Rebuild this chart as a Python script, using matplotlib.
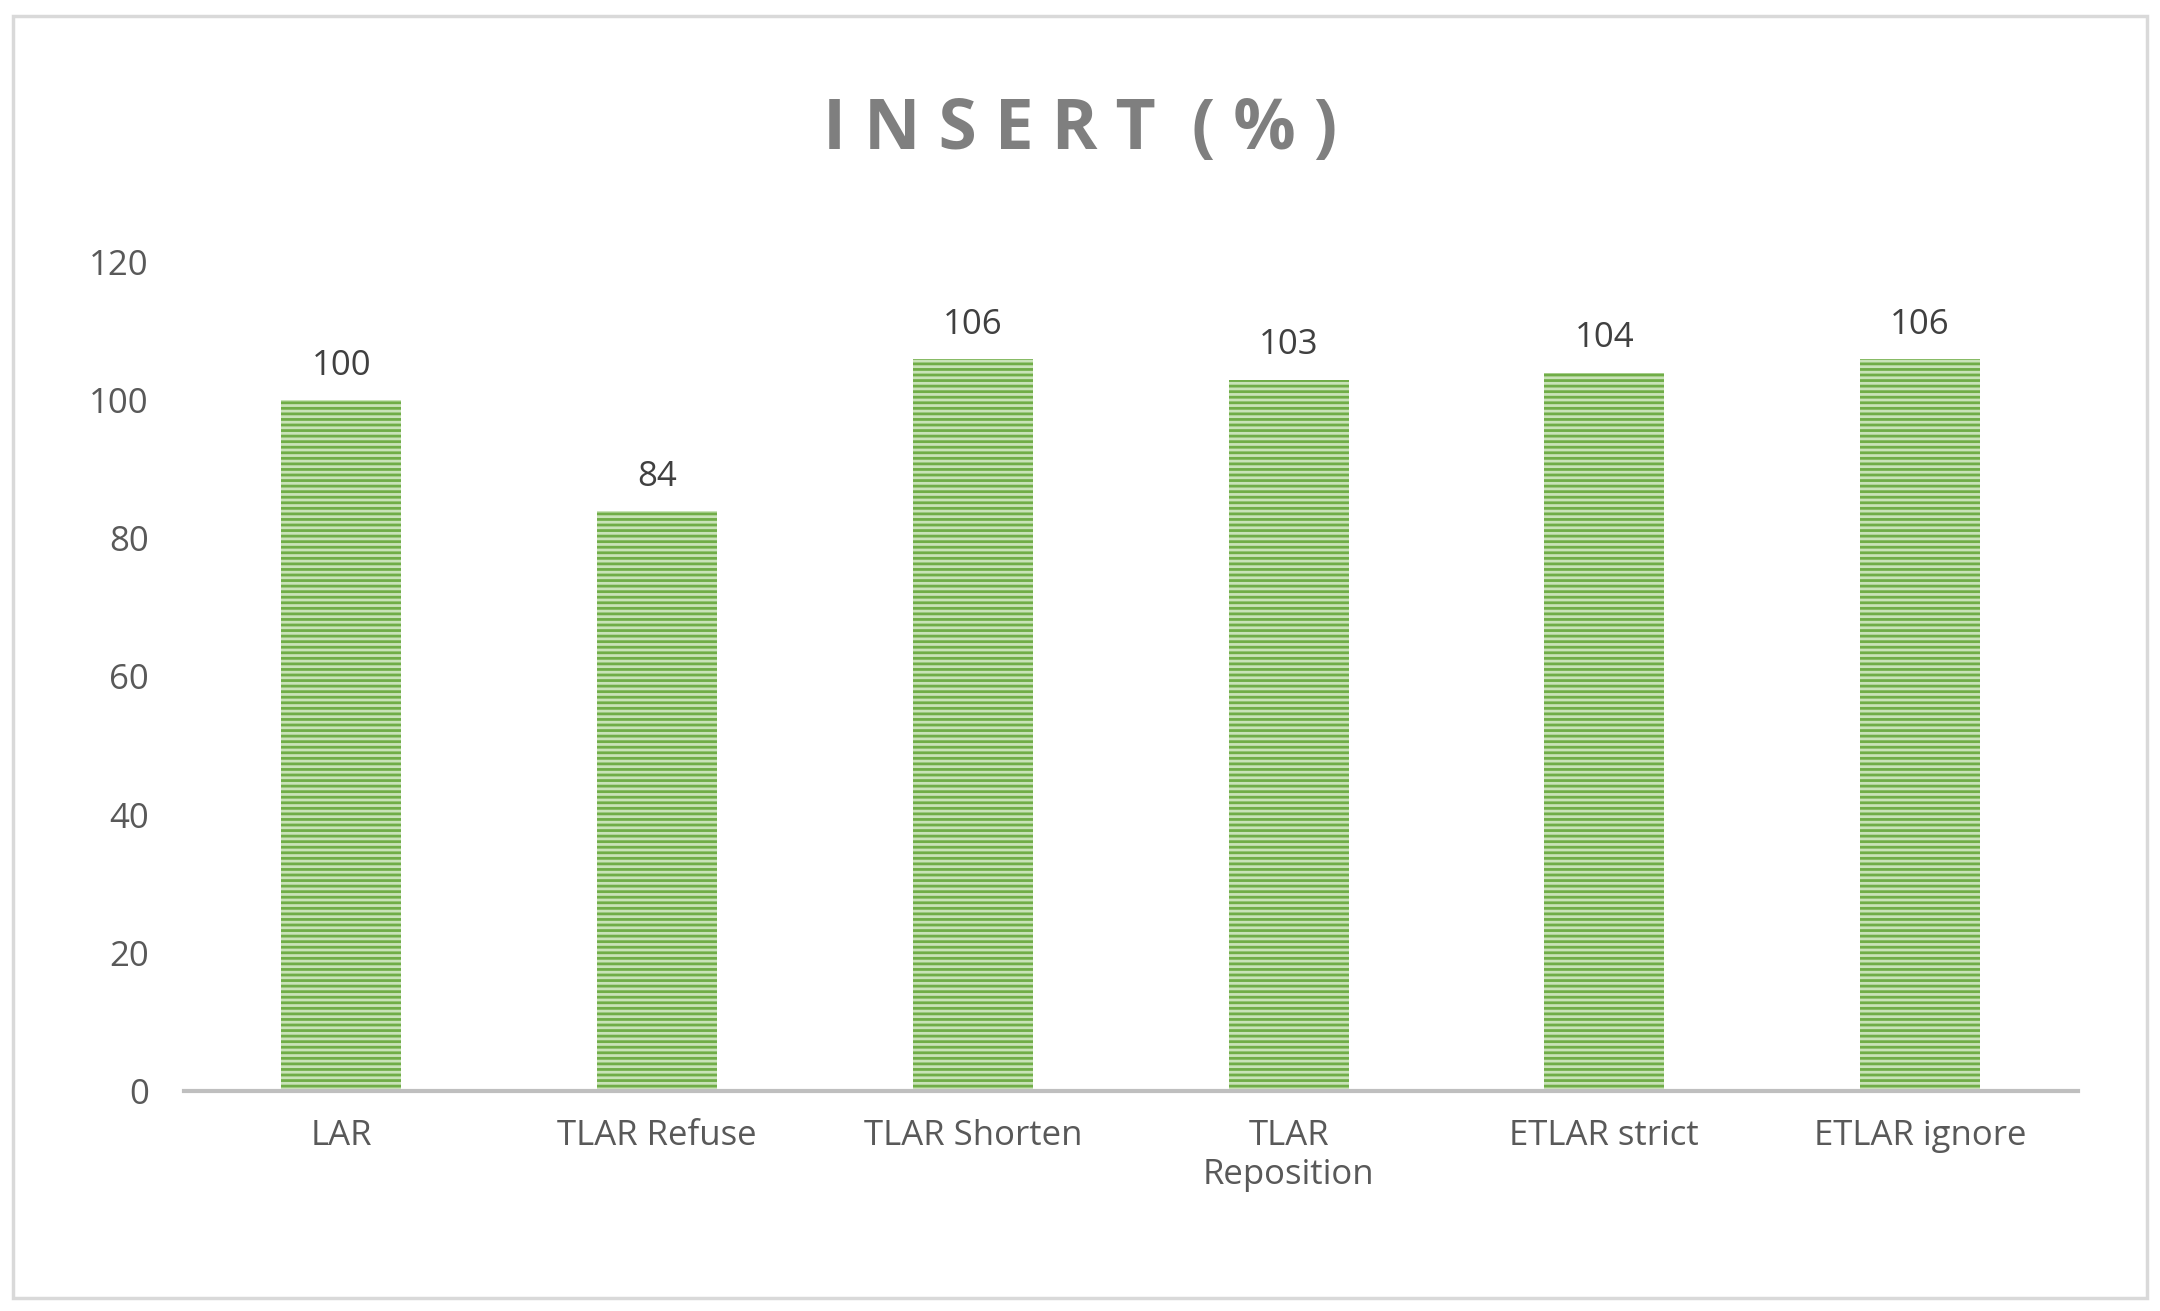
import matplotlib as mpl
mpl.use('Agg')
import matplotlib.pyplot as plt
from matplotlib.patches import Rectangle

categories = ['LAR', 'TLAR Refuse', 'TLAR Shorten', 'TLAR\nReposition', 'ETLAR strict', 'ETLAR ignore']
values = [100, 84, 106, 103, 104, 106]

plt.rcParams['font.family'] = ['Open Sans', 'DejaVu Sans']
plt.rcParams['hatch.linewidth'] = 2.0
plt.rcParams['hatch.color'] = '#70ad47'

fig = plt.figure(figsize=(21.6, 13.11), dpi=100)
ax = fig.add_axes([0.085, 0.168, 0.877, 0.632])
fig.patches.append(Rectangle((0.006, 0.01), 0.988, 0.978, transform=fig.transFigure,
                             fill=False, edgecolor='#d9d9d9', linewidth=2.5))

x = range(len(categories))
bars = ax.bar(x, values, width=0.38, color='#c9e3b8', edgecolor='#70ad47',
              linewidth=0, hatch='---')
for xi, v in zip(x, values):
    ax.text(xi, v + 2.5, str(v), ha='center', va='bottom', fontsize=25, color='#404040')

ax.set_ylim(0, 120)
ax.set_xlim(-0.5, len(categories) - 0.5)
ax.set_yticks(range(0, 121, 20))
ax.set_xticks(list(x))
ax.set_xticklabels(categories, fontsize=25, color='#595959')
ax.tick_params(axis='y', labelsize=25, labelcolor='#595959', length=0, pad=25)
ax.tick_params(axis='x', length=0, pad=20)
for s in ['top', 'right', 'left']:
    ax.spines[s].set_visible(False)
ax.spines['bottom'].set_color('#bfbfbf')
ax.spines['bottom'].set_linewidth(3)

fig.text(0.5, 0.9, 'I N S E R T  ( % )', ha='center', va='center', fontsize=50,
         fontweight='bold', color='#7f7f7f')

plt.savefig('out.png', facecolor='w')
